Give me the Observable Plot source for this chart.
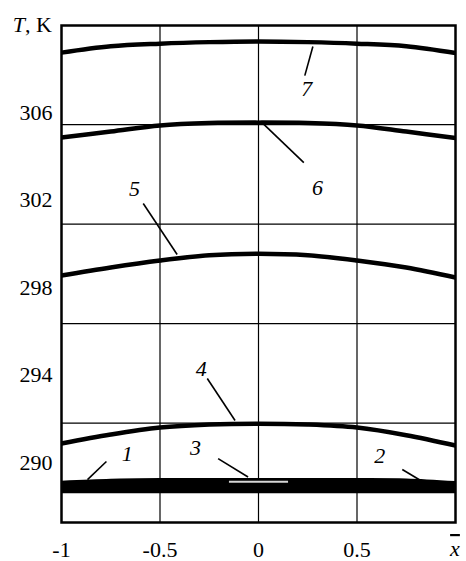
<!DOCTYPE html>
<html>
<head>
<meta charset="utf-8">
<script src="https://cdn.jsdelivr.net/npm/d3@7"></script>
<script src="https://cdn.jsdelivr.net/npm/@observablehq/plot@0.6"></script>
<style>
  html, body { margin: 0; padding: 0; background: #fff; }
  #chart svg { display: block; }
</style>
</head>
<body>
<div id="chart"></div>
<script>
// ---- data ----
const xs = [-1, -0.75, -0.5, -0.25, 0, 0.25, 0.5, 0.75, 1];
const curve1 = [288.99, 289.08, 289.11, 289.11, 289.11, 289.11, 289.11, 289.09, 288.97];
const curve2 = [288.80, 288.80, 288.80, 288.80, 288.80, 288.80, 288.80, 288.80, 288.80];
const curve3x = [-0.15, 0.15];
const curve3T = [289.12, 289.12];
const curve4 = [290.87, 291.28, 291.60, 291.74, 291.78, 291.74, 291.60, 291.25, 290.78];
const curve5 = [298.55, 298.92, 299.24, 299.48, 299.55, 299.48, 299.24, 298.92, 298.46];
const curve6 = [304.86, 305.13, 305.41, 305.52, 305.54, 305.52, 305.41, 305.13, 304.84];
const curve7 = [308.74, 309.03, 309.15, 309.22, 309.25, 309.22, 309.15, 309.03, 308.72];

const xTicks = [-1, -0.5, 0, 0.5];
const yTicks = [290, 294, 298, 302, 306];
const gridX = [-0.5, 0, 0.5];
const gridT = [291.8, 296.35, 300.9, 305.45];

const labelNames = ["1", "2", "3", "4", "5", "6", "7"];
const labelX = [-0.666, 0.615, -0.32, -0.29, -0.63, 0.30, 0.245];
const labelT = [290.41, 290.32, 290.69, 294.3, 302.5, 302.57, 307.1];
const leaderX1 = [-0.772, 0.73, -0.205, -0.26, -0.585, 0.018, 0.276];
const leaderT1 = [290.05, 289.68, 290.18, 293.84, 301.84, 305.54, 309.02];
const leaderX2 = [-0.868, 0.84, -0.053, -0.119, -0.413, 0.23, 0.235];
const leaderT2 = [289.22, 289.09, 289.34, 291.92, 299.51, 303.71, 307.69];

// ---- tables built from the arrays ----
const series = [
  {name: "1", vals: curve1, w: 8},
  {name: "2", vals: curve2, w: 9},
  {name: "4", vals: curve4, w: 4.5},
  {name: "5", vals: curve5, w: 4.5},
  {name: "6", vals: curve6, w: 4.5},
  {name: "7", vals: curve7, w: 4.5}
];
const lineMarks = series.map(s =>
  Plot.line(xs.map((x, i) => ({x, T: s.vals[i]})), {x: "x", y: "T", stroke: "black", strokeWidth: s.w, strokeLinecap: "butt", curve: "catmull-rom"})
);
const curve3Data = curve3x.map((x, i) => ({x, T: curve3T[i]}));
const labels = labelNames.map((n, i) => ({n, x: labelX[i], T: labelT[i]}));
const leaders = labelNames.map((n, i) => ({x1: leaderX1[i], y1: leaderT1[i], x2: leaderX2[i], y2: leaderT2[i]}));

const serif = "'Liberation Serif', 'DejaVu Serif', serif";
const chart = Plot.plot({
  width: 466,
  height: 561,
  marginLeft: 61,
  marginRight: 11,
  marginTop: 25,
  marginBottom: 39,
  style: {fontFamily: serif, fontSize: "21px", color: "black", background: "white", overflow: "visible"},
  x: {domain: [-1, 1], label: null},
  y: {domain: [287.26, 309.98], label: null},
  marks: [
    Plot.ruleX(gridX, {stroke: "black", strokeWidth: 1.2}),
    Plot.ruleY(gridT, {stroke: "black", strokeWidth: 1.2}),
    ...lineMarks,
    Plot.line(curve3Data, {x: "x", y: "T", stroke: "#d6d6d6", strokeWidth: 2, strokeLinecap: "butt"}),
    Plot.link(leaders, {x1: "x1", y1: "y1", x2: "x2", y2: "y2", stroke: "black", strokeWidth: 1.6}),
    Plot.text(labels, {x: "x", y: "T", text: "n", fontStyle: "italic", fontFamily: serif, fontSize: 22, fill: "black"}),
    Plot.frame({stroke: "black", strokeWidth: 2.5}),
    Plot.axisX(xTicks, {tickSize: 0, tickPadding: 19, tickFormat: d => String(d), fontFamily: serif, fontSize: 22, letterSpacing: 1}),
    Plot.axisY(yTicks, {tickSize: 0, tickPadding: 9, tickFormat: d => String(d), fontFamily: serif, fontSize: 22, letterSpacing: 1.5})
  ]
});

const svg = d3.select(chart);
// y-axis title "T, K"
const yt = svg.append("text")
  .attr("x", 52).attr("y", 32)
  .attr("text-anchor", "end")
  .attr("font-family", serif)
  .attr("font-size", 22)
  .attr("fill", "black");
yt.append("tspan").attr("font-style", "italic").text("T");
yt.append("tspan").text(", K");
// x-axis title: x with an overbar
svg.append("text")
  .attr("x", 455).attr("y", 556)
  .attr("font-family", serif)
  .attr("font-size", 22)
  .attr("font-style", "italic")
  .attr("fill", "black")
  .style("text-decoration", "overline")
  .text("x");

document.getElementById("chart").appendChild(chart);
</script>
</body>
</html>
